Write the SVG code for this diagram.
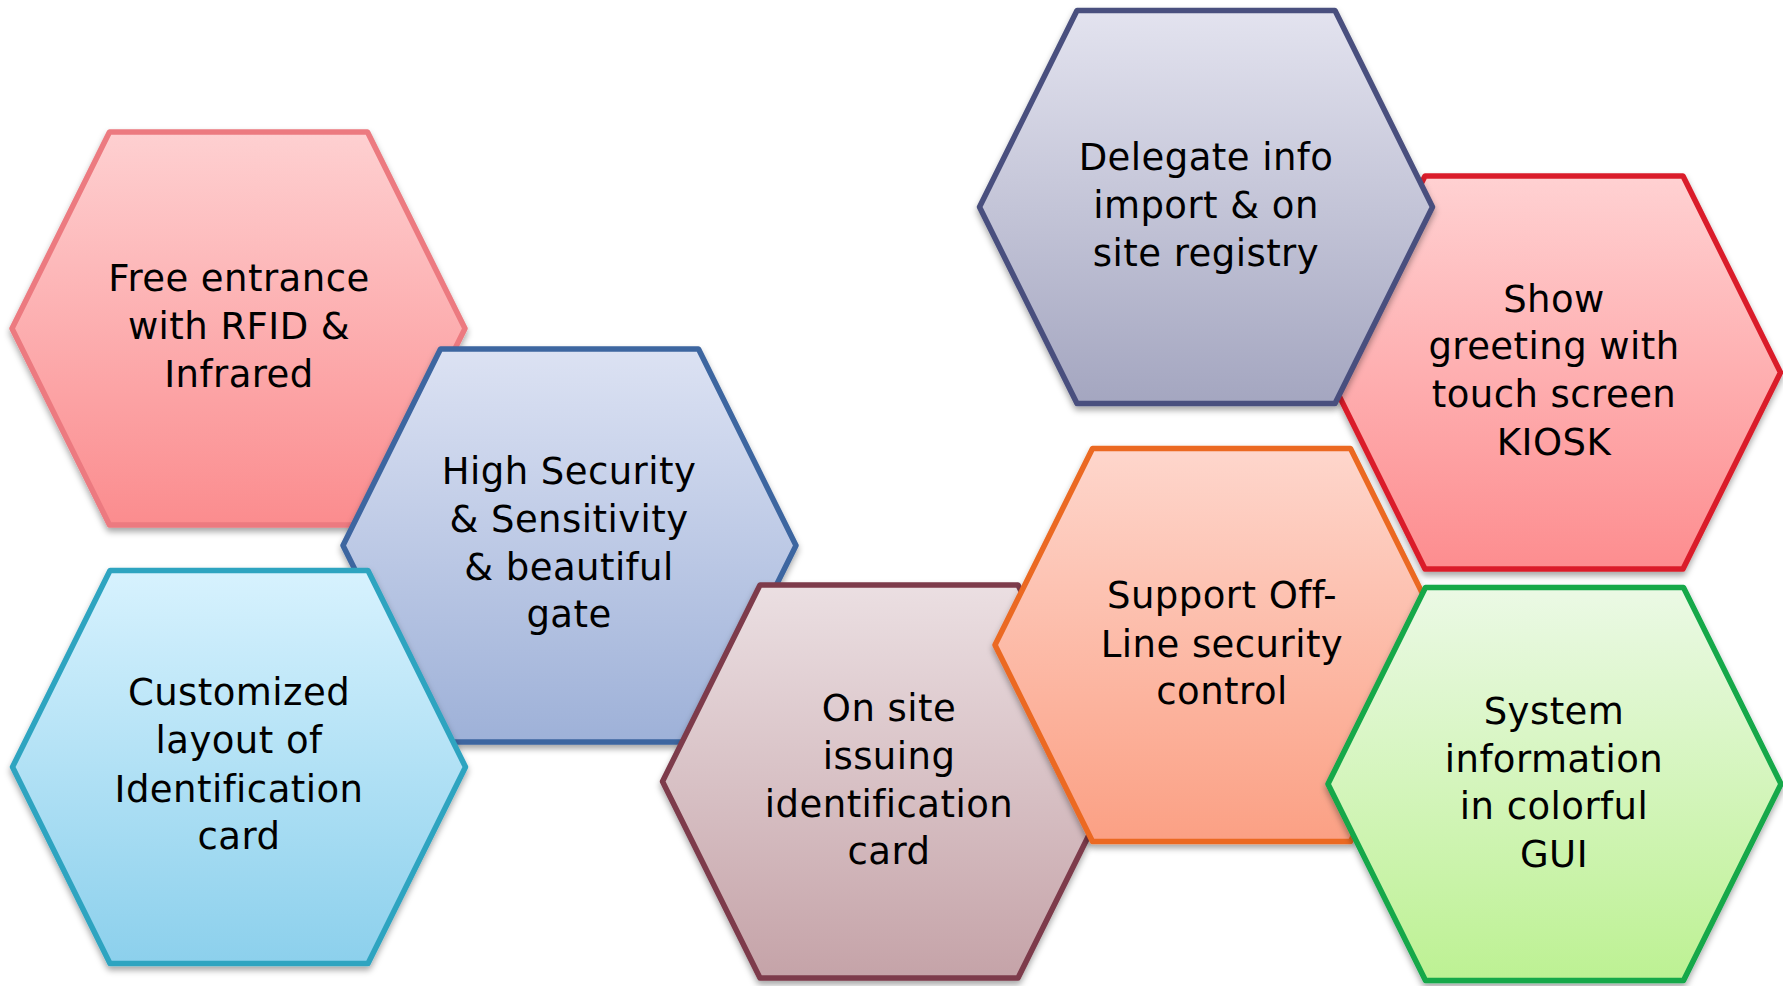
<svg xmlns="http://www.w3.org/2000/svg" xmlns:xlink="http://www.w3.org/1999/xlink" width="1783" height="986" viewBox="0 0 1783 986">
<style>
.hex{stroke-width:5.5;stroke-linejoin:round;filter:url(#sh)}
.lbl{font-family:"DejaVu Sans","Liberation Sans",sans-serif;font-size:37px;letter-spacing:0.45px;fill:#000;text-anchor:middle}
</style>
<defs>
<filter id="sh" x="-10%" y="-10%" width="120%" height="125%">
<feDropShadow dx="0" dy="4" stdDeviation="3" flood-color="#000" flood-opacity="0.35"/>
</filter>
<path id="hexshape" d="M-129,-196.5 L129,-196.5 L226.5,0 L129,196.5 L-129,196.5 L-226.5,0 Z"/>
<linearGradient id="g1" x1="0" y1="0" x2="0" y2="1"><stop offset="0" stop-color="#FED0D1"/><stop offset="1" stop-color="#FB8C8E"/></linearGradient>
<linearGradient id="g2" x1="0" y1="0" x2="0" y2="1"><stop offset="0" stop-color="#DCE2F3"/><stop offset="1" stop-color="#9EB1D8"/></linearGradient>
<linearGradient id="g3" x1="0" y1="0" x2="0" y2="1"><stop offset="0" stop-color="#D7F2FE"/><stop offset="1" stop-color="#8CD0EC"/></linearGradient>
<linearGradient id="g4" x1="0" y1="0" x2="0" y2="1"><stop offset="0" stop-color="#EBDFE2"/><stop offset="1" stop-color="#C5A3A8"/></linearGradient>
<linearGradient id="g5" x1="0" y1="0" x2="0" y2="1"><stop offset="0" stop-color="#E3E3EF"/><stop offset="1" stop-color="#A4A6C0"/></linearGradient>
<linearGradient id="g6" x1="0" y1="0" x2="0" y2="1"><stop offset="0" stop-color="#FFD1D2"/><stop offset="1" stop-color="#FD8D8F"/></linearGradient>
<linearGradient id="g7" x1="0" y1="0" x2="0" y2="1"><stop offset="0" stop-color="#FED6CC"/><stop offset="1" stop-color="#FBA084"/></linearGradient>
<linearGradient id="g8" x1="0" y1="0" x2="0" y2="1"><stop offset="0" stop-color="#EBF9E5"/><stop offset="1" stop-color="#BDF193"/></linearGradient>
</defs>
<rect width="1783" height="986" fill="#fff"/>
<g id="connectors"></g>
<g id="n1">
<use xlink:href="#hexshape" class="hex" transform="translate(238.5,328.5)" fill="url(#g1)" stroke="#EC7A80"/>
<text class="lbl"><tspan x="239" y="291">Free entrance</tspan><tspan x="239" y="339">with RFID &amp;</tspan><tspan x="239" y="387">Infrared</tspan></text>
</g>
<g id="n2">
<use xlink:href="#hexshape" class="hex" transform="translate(569.5,545.5)" fill="url(#g2)" stroke="#3E66A0"/>
<text class="lbl"><tspan x="569" y="484">High Security</tspan><tspan x="569" y="532">&amp; Sensitivity</tspan><tspan x="569" y="580">&amp; beautiful</tspan><tspan x="569" y="627">gate</tspan></text>
</g>
<g id="n3">
<use xlink:href="#hexshape" class="hex" transform="translate(239,767)" fill="url(#g3)" stroke="#2EA4C0"/>
<text class="lbl"><tspan x="239" y="705">Customized</tspan><tspan x="239" y="753">layout of</tspan><tspan x="239" y="802">Identification</tspan><tspan x="239" y="849">card</tspan></text>
</g>
<g id="n4">
<use xlink:href="#hexshape" class="hex" transform="translate(889,781.5)" fill="url(#g4)" stroke="#7D3B4B"/>
<text class="lbl"><tspan x="889" y="721">On site</tspan><tspan x="889" y="769">issuing</tspan><tspan x="889" y="817">identification</tspan><tspan x="889" y="864">card</tspan></text>
</g>
<g id="n6">
<use xlink:href="#hexshape" class="hex" transform="translate(1554,372.5)" fill="url(#g6)" stroke="#DA1F2B"/>
<text class="lbl"><tspan x="1554" y="312">Show</tspan><tspan x="1554" y="359">greeting with</tspan><tspan x="1554" y="407">touch screen</tspan><tspan x="1554" y="455">KIOSK</tspan></text>
</g>
<g id="n5">
<use xlink:href="#hexshape" class="hex" transform="translate(1206,207)" fill="url(#g5)" stroke="#4A4F7E"/>
<text class="lbl"><tspan x="1206" y="170">Delegate info</tspan><tspan x="1206" y="218">import &amp; on</tspan><tspan x="1206" y="266">site registry</tspan></text>
</g>
<g id="n7">
<use xlink:href="#hexshape" class="hex" transform="translate(1221.5,645)" fill="url(#g7)" stroke="#EB6922"/>
<text class="lbl"><tspan x="1222" y="608">Support Off-</tspan><tspan x="1222" y="657">Line security</tspan><tspan x="1222" y="704">control</tspan></text>
</g>
<g id="n8">
<use xlink:href="#hexshape" class="hex" transform="translate(1554.5,784)" fill="url(#g8)" stroke="#12A84A"/>
<text class="lbl"><tspan x="1554" y="724">System</tspan><tspan x="1554" y="772">information</tspan><tspan x="1554" y="819">in colorful</tspan><tspan x="1554" y="867">GUI</tspan></text>
</g>
</svg>
